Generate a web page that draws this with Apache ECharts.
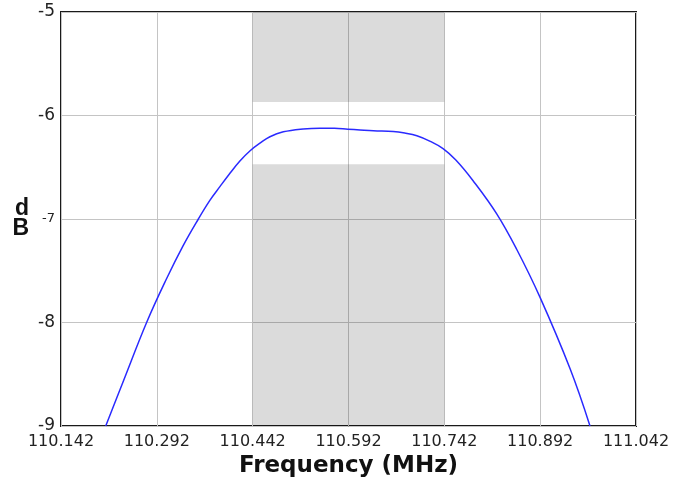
<!DOCTYPE html>
<html>
<head>
<meta charset="utf-8">
<script src="https://cdn.jsdelivr.net/npm/echarts@6/dist/echarts.min.js"></script>
<style>
  html, body { margin: 0; padding: 0; background: #fff; }
  #chart { width: 689px; height: 489px; }
</style>
</head>
<body>
<div id="chart"></div>
<script>
// measured response, MHz vs dB
const freq = [110.212, 110.240, 110.276, 110.307, 110.333, 110.357, 110.375, 110.391,
  110.405, 110.422, 110.438, 110.454, 110.469, 110.490, 110.521, 110.547, 110.570, 110.591,
  110.610, 110.631, 110.662, 110.680, 110.699, 110.720, 110.740, 110.760, 110.787, 110.824,
  110.855, 110.892, 110.939, 110.970]
const level = [-9.0, -8.56, -8.0, -7.58, -7.26, -7.0, -6.82, -6.685,
  -6.57, -6.44, -6.34, -6.265, -6.205, -6.158, -6.13, -6.122, -6.123, -6.132,
  -6.14, -6.148, -6.155, -6.17, -6.196, -6.25, -6.32, -6.43, -6.63, -6.95,
  -7.29, -7.76, -8.45, -9.0]

// spec mask: passband between these frequencies, gap in the mask (dB)
const maskFreq = [110.442, 110.742]
const maskGap = [-5.87, -6.47]

const xMin = 110.142, xMax = 111.042, xStep = 0.15
const yMin = -9, yMax = -5

const chart = echarts.init(document.getElementById('chart'))

chart.setOption({
  animation: false,
  grid: {
    left: 61, right: 53, top: 12, bottom: 63,
    show: true, borderColor: '#1a1a1a', borderWidth: 2
  },
  xAxis: {
    type: 'value', min: xMin, max: xMax, interval: xStep,
    name: 'Frequency (MHz)', nameLocation: 'middle', nameGap: 27,
    nameTextStyle: { fontFamily: 'DejaVu Sans', fontWeight: 'bold', fontSize: 23, color: '#111' },
    axisLine: { show: false }, axisTick: { show: false },
    axisLabel: {
      fontFamily: 'DejaVu Sans', fontSize: 16, color: '#222', margin: 8,
      formatter: v => v.toFixed(3)
    },
    splitLine: { lineStyle: { color: '#c4c4c4', width: 1 } }
  },
  yAxis: {
    type: 'value', min: yMin, max: yMax, interval: 1,
    name: 'd\nB', nameLocation: 'middle', nameRotate: 0, nameGap: 32,
    nameTextStyle: {
      fontFamily: 'Liberation Sans', fontWeight: 'bold', fontSize: 23, color: '#111',
      lineHeight: 20, padding: [14, 0, 0, 0]
    },
    axisLine: { show: false }, axisTick: { show: false },
    axisLabel: {
      fontFamily: 'DejaVu Sans', fontSize: 17, color: '#222', margin: 6,
      formatter: v => v === -7 ? '{s|-7}' : String(v),
      rich: { s: { fontFamily: 'DejaVu Sans', fontSize: 13, color: '#222' } }
    },
    splitLine: { lineStyle: { color: '#c4c4c4', width: 1 } }
  },
  series: [{
    type: 'line',
    data: freq.map((f, i) => [f, level[i]]),
    showSymbol: false,
    smooth: 0.4,
    lineStyle: { color: '#2a2aff', width: 1.5 },
    markArea: {
      silent: true,
      itemStyle: { color: 'rgba(0,0,0,0.14)' },
      data: [
        [{ coord: [maskFreq[0], yMax] }, { coord: [maskFreq[1], maskGap[0]] }],
        [{ coord: [maskFreq[0], maskGap[1]] }, { coord: [maskFreq[1], yMin] }]
      ]
    }
  }]
})
</script>
</body>
</html>
